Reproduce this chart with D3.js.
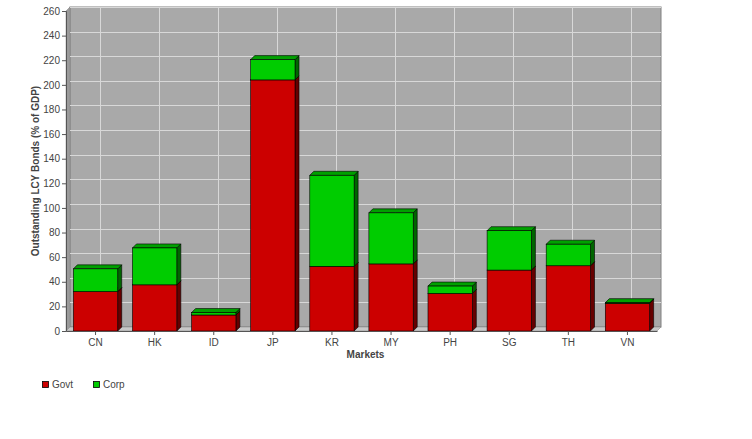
<!DOCTYPE html>
<html><head><meta charset="utf-8">
<script src="https://cdn.jsdelivr.net/npm/d3@7"></script>
<style>body{margin:0;background:#fff}svg{display:block;font-family:"Liberation Sans",Arial,sans-serif}</style>
</head><body>
<script>
const categories = ["CN","HK","ID","JP","KR","MY","PH","SG","TH","VN"];
const govt = [32, 37.5, 13, 204, 52.5, 54.5, 30.5, 49.5, 53, 22.5];
const corp = [18.5, 30, 2, 16.5, 74, 41.5, 6, 32, 17.5, 0.5];
const yTicks = [0,20,40,60,80,100,120,140,160,180,200,220,240,260];
const seriesNames = ["Govt","Corp"];
const seriesColors = ["#cc0000","#00cc00"];
const sideColors = ["#660000","#006600"];
const topColors = ["#a00000","#00a000"];

const W=752,H=439, L=66, R=657, T=11, B=331, D=4;
const svg=d3.select("body").append("svg").attr("width",W).attr("height",H);
const x=d3.scaleBand().domain(categories).range([L,R]).paddingInner(0.25).paddingOuter(0.125);
const y=d3.scaleLinear().domain([0,260]).range([B,T]);

// back wall
svg.append("rect").attr("x",L+D).attr("y",T-D).attr("width",R-L).attr("height",B-T)
  .attr("fill","#a9a9a9").attr("stroke","#808080").attr("stroke-width",1);
// left wall & floor
svg.append("polygon").attr("points",`${L},${B} ${L},${T} ${L+D},${T-D} ${L+D},${B-D}`).attr("fill","#9a9a9a").attr("stroke","#808080").attr("stroke-width",0.5);
svg.append("polygon").attr("points",`${L},${B} ${R},${B} ${R+D},${B-D} ${L+D},${B-D}`).attr("fill","#c8c8c8").attr("stroke","#808080").attr("stroke-width",0.5);
// gridlines
svg.append("g").selectAll("line").data(yTicks.slice(1)).join("line")
  .attr("x1",L+D).attr("x2",R+D).attr("y1",d=>Math.round(y(d))-D+0.5).attr("y2",d=>Math.round(y(d))-D+0.5)
  .attr("stroke","#d8d8d8").attr("stroke-width",1);
svg.append("g").selectAll("line").data(categories).join("line")
  .attr("x1",d=>Math.round(x(d)+x.bandwidth()/2)+D+0.5).attr("x2",d=>Math.round(x(d)+x.bandwidth()/2)+D+0.5)
  .attr("y1",T-D).attr("y2",B-D).attr("stroke","#d8d8d8").attr("stroke-width",1);

// bars
const stacks=[govt,corp];
const gb=svg.append("g");
for(let s=0;s<2;s++){
  categories.forEach((c,i)=>{
    const base = s===0?0:govt[i];
    const top = base+stacks[s][i];
    const x0=x(c), w=x.bandwidth(), y0=y(top), y1=y(base);
    gb.append("polygon").attr("points",`${x0+w},${y0} ${x0+w+D},${y0-D} ${x0+w+D},${y1-D} ${x0+w},${y1}`)
      .attr("fill",sideColors[s]).attr("stroke","#000").attr("stroke-width",0.6);
    gb.append("polygon").attr("points",`${x0},${y0} ${x0+D},${y0-D} ${x0+w+D},${y0-D} ${x0+w},${y0}`)
      .attr("fill",topColors[s]).attr("stroke","#000").attr("stroke-width",0.6);
    gb.append("rect").attr("x",x0).attr("y",y0).attr("width",w).attr("height",Math.max(0,y1-y0))
      .attr("fill",seriesColors[s]).attr("stroke","#000").attr("stroke-width",0.6);
  });
}

// axes
const ya=svg.append("g").attr("transform",`translate(${L},0)`)
  .call(d3.axisLeft(y).tickValues(yTicks).tickSize(4).tickPadding(2));
ya.select(".domain").attr("stroke","#555");
ya.selectAll("line").attr("stroke","#555");
ya.selectAll("text").attr("fill","#444").style("font-size","10px").style("font-family","Liberation Sans, Arial, sans-serif");
const xa=svg.append("g").attr("transform",`translate(0,${B})`)
  .call(d3.axisBottom(x).tickSize(4).tickSizeOuter(0).tickPadding(4));
xa.select(".domain").attr("stroke","#555");
xa.selectAll("line").attr("stroke","#555");
xa.selectAll("text").attr("fill","#444").style("font-size","10px").style("font-family","Liberation Sans, Arial, sans-serif");

svg.append("text").attr("x",(L+R)/2+D).attr("y",358).attr("text-anchor","middle")
  .style("font-size","10px").style("font-weight","bold").attr("fill","#444").text("Markets");
svg.append("text").attr("transform",`translate(39,${(T+B)/2}) rotate(-90)`).attr("text-anchor","middle")
  .style("font-size","10px").style("font-weight","bold").attr("fill","#444").text("Outstanding LCY Bonds (% of GDP)");

// legend
const lg=svg.append("g").attr("transform","translate(42,381)");
seriesNames.forEach((n,i)=>{
  const gx=i*51;
  lg.append("rect").attr("x",gx+0.5).attr("y",0.5).attr("width",6).attr("height",6)
    .attr("fill",seriesColors[i]).attr("stroke","#000").attr("stroke-width",0.8);
  lg.append("text").attr("x",gx+10).attr("y",7).style("font-size","10px").attr("fill","#444").text(n);
});
</script>
</body></html>
